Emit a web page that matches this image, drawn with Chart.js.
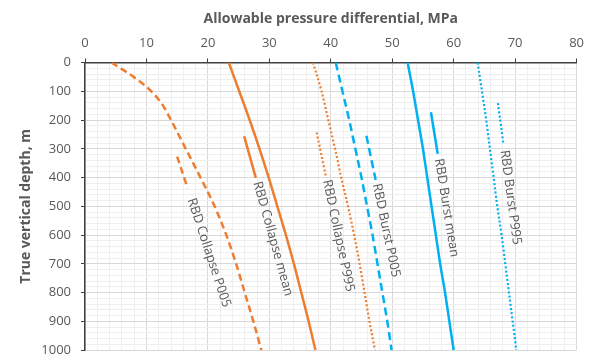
<!DOCTYPE html>
<html>
<head>
<meta charset="utf-8">
<script src="https://cdn.jsdelivr.net/npm/chart.js@4.4.1/dist/chart.umd.min.js"></script>
<style>
  html, body { margin: 0; padding: 0; background: #fff; overflow: hidden; }
  #wrap { width: 591px; height: 368px; position: relative; }
</style>
</head>
<body>
<div id="wrap"><canvas id="chart"></canvas></div>
<script>
// depths (m) and allowable pressure differential (MPa)
const depthM = [0, 100, 200, 300, 400, 500, 600, 700, 800, 900, 1000];
const depthP005Collapse = [0, 50, 100, 150, 200, 300, 400, 500, 600, 700, 800, 900, 1000];

const collapseP005 = [4.3, 7.9, 10.8, 12.7, 14.0, 16.4, 18.8, 21.1, 23.0, 24.6, 26.0, 27.4, 28.7];
const collapseMean = [23.4, 25.1, 26.8, 28.4, 29.9, 31.3, 32.7, 34.0, 35.2, 36.4, 37.5];
const collapseP995 = [37.1, 38.5, 39.6, 40.7, 41.7, 42.8, 43.8, 44.7, 45.5, 46.3, 47.2];
const burstP005 = [40.8, 41.9, 43.0, 44.0, 45.0, 45.9, 46.8, 47.6, 48.4, 49.2, 49.9];
const burstMean = [52.5, 53.4, 54.2, 55.0, 55.7, 56.4, 57.1, 57.8, 58.6, 59.3, 60.0];
const burstP995 = [63.9, 64.6, 65.3, 65.9, 66.5, 67.1, 67.8, 68.4, 69.0, 69.6, 70.2];

// short marker lines that sit next to each curve name
const seriesNames = ['RBD Collapse P005', 'RBD Collapse mean', 'RBD Collapse P995',
                     'RBD Burst P005', 'RBD Burst mean', 'RBD Burst P995'];
const markStartMPa = [15.0, 25.9, 37.7, 45.8, 56.3, 67.2];
const markStartM = [327, 256, 243, 255, 173, 141];
const markEndMPa = [16.7, 27.8, 39.2, 47.3, 57.4, 68.1];
const markEndM = [437, 401, 395, 408, 317, 284];

const xTicks = [0, 10, 20, 30, 40, 50, 60, 70, 80];
const yTicks = [0, 100, 200, 300, 400, 500, 600, 700, 800, 900, 1000];

const ORANGE = '#ED7D31';
const BLUE = '#00B0F0';
const TEXT = '#595959';

const styles = [
  { color: ORANGE, dash: [7, 4], width: 2.5 },
  { color: ORANGE, dash: [], width: 2.5 },
  { color: ORANGE, dash: [2, 2.2], width: 2.2 },
  { color: BLUE, dash: [8, 4.5], width: 2.5 },
  { color: BLUE, dash: [], width: 2.5 },
  { color: BLUE, dash: [2, 2.2], width: 2.2 }
];
const labelGap = [11, 4, 4, 4, 5, 6];

const toPts = (xs, ys) => xs.map((v, i) => ({ x: v, y: ys[i] }));
const curves = [
  toPts(collapseP005, depthP005Collapse),
  toPts(collapseMean, depthM),
  toPts(collapseP995, depthM),
  toPts(burstP005, depthM),
  toPts(burstMean, depthM),
  toPts(burstP995, depthM)
];

const datasets = [];
curves.forEach((pts, i) => {
  datasets.push({
    label: seriesNames[i],
    data: pts,
    showLine: true,
    borderColor: styles[i].color,
    borderWidth: styles[i].width,
    borderDash: styles[i].dash,
    pointRadius: 0,
    cubicInterpolationMode: 'monotone',
    fill: false
  });
});
seriesNames.forEach((n, i) => {
  datasets.push({
    label: n + ' mark',
    data: [{ x: markStartMPa[i], y: markStartM[i] }, { x: markEndMPa[i], y: markEndM[i] }],
    showLine: true,
    borderColor: styles[i].color,
    borderWidth: styles[i].width,
    borderDash: styles[i].dash,
    pointRadius: 0,
    fill: false
  });
});

// curve names written along the marker lines
const curveNames = {
  id: 'curveNames',
  afterDatasetsDraw(chart) {
    const ctx = chart.ctx, xs = chart.scales.x, ys = chart.scales.y;
    ctx.save();
    ctx.font = '13px "Open Sans"';
    ctx.fillStyle = TEXT;
    ctx.textAlign = 'left';
    ctx.textBaseline = 'middle';
    seriesNames.forEach((name, i) => {
      const x1 = xs.getPixelForValue(markStartMPa[i]), y1 = ys.getPixelForValue(markStartM[i]);
      const x2 = xs.getPixelForValue(markEndMPa[i]), y2 = ys.getPixelForValue(markEndM[i]);
      const a = Math.atan2(y2 - y1, x2 - x1);
      ctx.save();
      ctx.translate(x2 + labelGap[i] * Math.cos(a), y2 + labelGap[i] * Math.sin(a));
      ctx.rotate(a);
      ctx.fillText(name, 0, 0);
      ctx.restore();
    });
    ctx.restore();
  }
};

const major = (v, step) => Math.abs(v % step) < 1e-6;

new Chart(document.getElementById('chart'), {
  type: 'scatter',
  data: { datasets: datasets },
  options: {
    responsive: true,
    maintainAspectRatio: false,
    animation: false,
    layout: { padding: { left: 0, right: 11.7, top: 0, bottom: 12.5 } },
    plugins: { legend: { display: false }, tooltip: { enabled: false } },
    scales: {
      x: {
        type: 'linear',
        position: 'top',
        min: 0, max: 80,
        afterFit: s => { s.height = 62.5; },
        ticks: {
          stepSize: 2,
          autoSkip: false,
          maxRotation: 0,
          padding: 7,
          color: TEXT,
          font: { family: 'Open Sans', size: 13 },
          callback: v => xTicks.includes(v) ? v : ''
        },
        grid: {
          color: c => c.tick && major(c.tick.value, 10) ? '#d9d9d9' : '#efefef',
          tickColor: c => c.tick && major(c.tick.value, 10) ? '#404040' : 'rgba(0,0,0,0)',
          tickLength: 4
        },
        border: { display: true, color: '#404040', width: 1.5 },
        title: {
          display: true,
          text: 'Allowable pressure differential, MPa',
          color: TEXT,
          font: { family: 'Open Sans', size: 14, weight: 'bold' },
          padding: { top: 11, bottom: 0 }
        }
      },
      y: {
        type: 'linear',
        reverse: true,
        min: 0, max: 1000,
        afterFit: s => { s.width = 85; },
        ticks: {
          stepSize: 20,
          autoSkip: false,
          padding: 10,
          color: TEXT,
          font: { family: 'Open Sans', size: 13 },
          callback: v => yTicks.includes(v) ? v : ''
        },
        grid: {
          color: c => c.tick && major(c.tick.value, 100) ? '#d9d9d9' : '#efefef',
          tickColor: c => c.tick && major(c.tick.value, 100) ? '#404040' : 'rgba(0,0,0,0)',
          tickLength: 4
        },
        border: { display: true, color: '#404040', width: 1.5 },
        title: {
          display: true,
          text: 'True vertical depth, m',
          color: TEXT,
          font: { family: 'Open Sans', size: 14, weight: 'bold' },
          padding: { top: 18, bottom: 0 }
        }
      }
    }
  },
  plugins: [curveNames]
});
</script>
</body>
</html>
